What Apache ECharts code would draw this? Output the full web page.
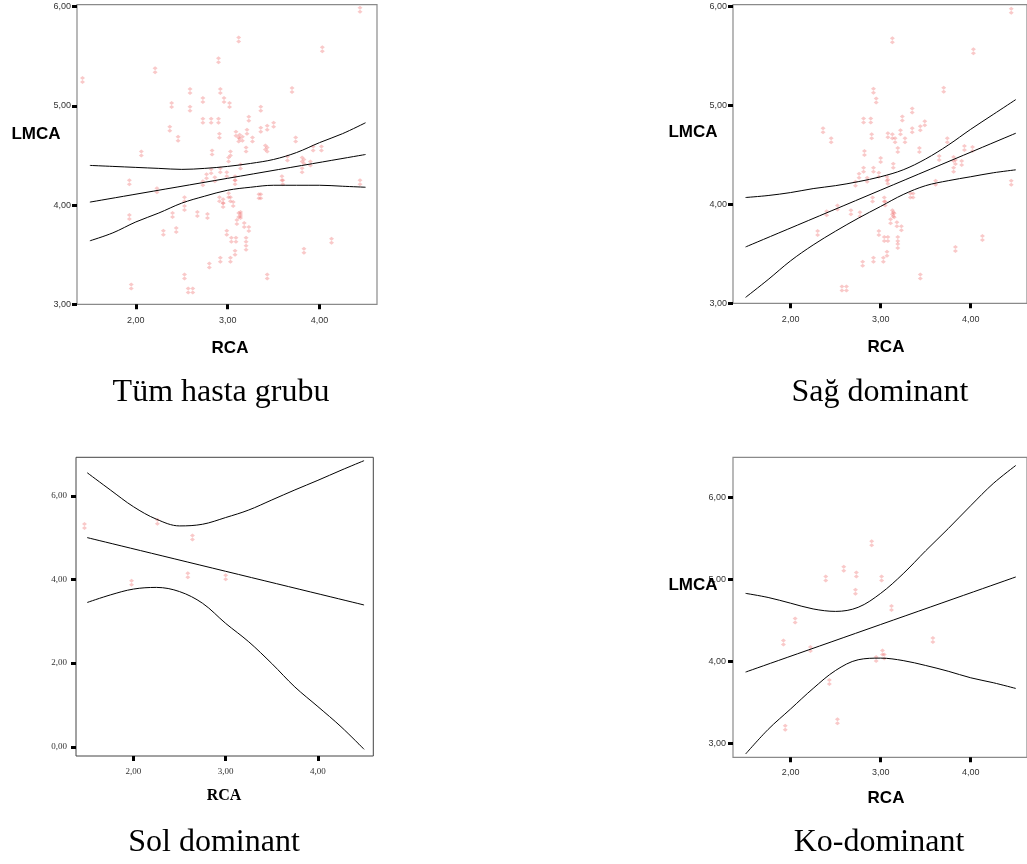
<!DOCTYPE html>
<html>
<head>
<meta charset="utf-8">
<script src="https://cdn.jsdelivr.net/npm/echarts@6/dist/echarts.min.js"></script>
<style>
  html, body { margin: 0; padding: 0; background: #fff; }
  #chart { width: 1027px; height: 864px; }
</style>
</head>
<body>
<div id="chart"></div>
<script>
// ---- data -------------------------------------------------------------
// Tüm hasta grubu (all patients)
const allRca = [1.42,2.21,2.06,1.93,1.93,1.95,2.23,2.30,2.40,2.44,2.37,2.39,2.46,2.53,2.53,2.53,2.57,2.62,2.59,2.59,
  2.67,2.73,2.73,2.73,2.78,2.80,2.77,2.82,2.82,2.83,2.86,2.90,2.90,2.91,2.92,2.92,2.91,2.92,2.95,2.95,
  2.96,2.99,2.99,3.01,3.02,3.03,3.01,3.03,3.04,3.03,3.06,3.08,3.08,3.08,3.09,3.09,3.10,3.12,3.12,3.13,
  3.14,3.12,3.14,3.14,3.16,3.18,3.20,3.20,3.20,3.21,3.23,3.23,3.27,3.36,3.36,3.34,3.36,3.41,3.43,3.43,
  3.43,3.50,3.59,3.60,3.65,3.70,3.74,3.81,3.83,3.81,3.83,3.90,3.93,4.02,4.03,4.13,4.44,4.44];
const allLmca = [5.26,5.36,4.52,4.23,3.88,3.18,4.15,3.72,3.90,3.75,4.77,5.01,4.67,4.06,3.97,3.28,3.14,3.14,5.15,4.97,
  3.91,5.06,4.85,4.22,3.89,3.39,4.29,4.34,4.85,4.53,4.26,4.85,5.46,4.70,4.35,5.15,4.06,3.45,4.04,4.00,
  5.06,4.31,3.72,4.46,5.01,4.52,4.10,4.06,3.65,3.45,4.01,4.27,4.23,3.52,3.65,4.72,3.83,5.67,4.66,4.69,
  4.39,3.90,3.91,3.89,4.67,3.80,4.56,3.65,3.57,4.74,4.87,3.76,4.66,4.97,4.76,4.09,4.09,4.58,4.56,4.78,
  3.28,4.81,4.27,4.23,4.47,5.16,4.66,4.46,4.44,4.35,3.54,4.42,4.57,4.57,5.57,3.64,5.97,4.23];

// Sağ dominant (right dominant)
const rightRca = [2.30,2.36,2.40,2.45,2.52,2.57,2.62,2.67,2.72,2.76,2.77,2.80,2.81,2.81,2.82,2.85,2.89,2.90,2.91,2.92,
  2.92,2.92,2.95,2.98,2.98,3.00,3.03,3.04,3.04,3.05,3.07,3.08,3.07,3.08,3.08,3.11,3.13,3.13,3.14,3.13,
  3.14,3.15,3.16,3.18,3.19,3.19,3.19,3.22,3.23,3.24,3.27,3.35,3.35,3.33,3.36,3.43,3.44,3.44,3.49,3.61,
  3.65,3.70,3.74,3.81,3.83,3.81,3.83,3.90,3.93,4.02,4.03,4.13,4.45,4.45];
const rightLmca = [3.71,4.75,3.91,4.65,3.97,3.15,3.15,3.92,4.21,4.29,3.90,3.40,4.85,4.35,4.52,4.25,4.85,4.69,4.05,3.44,
  4.35,5.15,5.05,4.30,3.71,4.45,3.44,4.05,3.65,4.01,4.26,4.23,3.50,3.65,4.70,3.83,5.66,4.69,4.39,3.92,
  3.90,3.89,4.65,3.80,4.55,3.65,3.58,4.73,3.76,4.87,4.65,4.95,4.75,4.09,4.09,4.55,4.77,3.27,4.82,4.22,
  4.47,5.16,4.65,4.46,4.43,4.35,3.55,4.42,4.57,4.56,5.55,3.66,5.96,4.22];

// Sol dominant (left dominant)
const leftRca = [1.47,1.98,2.26,2.59,2.64,3.00];
const leftLmca = [5.28,3.92,5.38,4.10,5.00,4.05];

// Ko-dominant (co-dominant)
const coRca = [1.92,1.94,2.05,2.22,2.39,2.43,2.52,2.59,2.72,2.73,2.90,2.95,3.01,3.02,3.04,3.12,3.58];
const coLmca = [4.23,3.19,4.50,4.15,5.01,3.75,3.27,5.13,4.85,5.06,5.44,4.03,5.01,4.11,4.06,4.65,4.26];

// regression line ends and 95% confidence band, sampled along RCA
const bandRca = [1.5,1.75,2.0,2.25,2.5,2.75,3.0,3.25,3.5,3.75,4.0,4.25,4.5];
const fitEnds = [1.5, 4.5];

const allFit = [4.03, 4.51];
const allUpper = [4.40,4.39,4.38,4.37,4.36,4.37,4.39,4.42,4.46,4.53,4.63,4.72,4.83];
const allLower = [3.64,3.72,3.83,3.92,4.02,4.09,4.15,4.18,4.20,4.20,4.20,4.19,4.18];

const rightFit = [3.57, 4.72];
const rightUpper = [4.07,4.09,4.12,4.16,4.19,4.23,4.28,4.35,4.46,4.60,4.76,4.91,5.06];
const rightLower = [3.06,3.24,3.43,3.59,3.73,3.86,3.98,4.10,4.19,4.24,4.28,4.32,4.35];

const leftFit = [5.00, 3.39];
const leftUpper = [6.55,6.14,5.74,5.44,5.28,5.32,5.48,5.66,5.90,6.14,6.37,6.61,6.84];
const leftLower = [3.45,3.63,3.77,3.81,3.71,3.43,2.95,2.51,1.99,1.43,0.96,0.48,-0.06];

const coFit = [3.87, 5.03];
const coUpper = [4.83,4.78,4.71,4.64,4.61,4.66,4.83,5.07,5.35,5.62,5.90,6.17,6.39];
const coLower = [2.87,3.17,3.42,3.67,3.89,4.02,4.04,4.01,3.95,3.88,3.80,3.74,3.67];

const xTicks = [2, 3, 4];
const yTicksA = [3, 4, 5, 6];
const yTicksLeft = [0, 2, 4, 6];

const panelTitles = ['Tüm hasta grubu', 'Sağ dominant', 'Sol dominant', 'Ko-dominant'];

// ---- helpers ----------------------------------------------------------
const zip = (xs, ys) => xs.map((x, i) => [x, ys[i]]);
const fmt = v => v.toFixed(2).replace('.', ',');

const SANS = '"Liberation Sans", Arial, sans-serif';
const SERIF = '"Liberation Serif", "Times New Roman", serif';

// small SPSS-like scatter glyph
const GLYPH = 'path://M3,0 L5,2 L3,4 L5,6 L3,8 L1,6 L3,4 L1,2 Z';

function xAxis(gi, min, max, font, margin) {
  return {
    type: 'value', gridIndex: gi, min: min, max: max,
    axisLine: { show: false, onZero: false },
    splitLine: { show: false },
    axisTick: { show: true, customValues: xTicks, length: 5, lineStyle: { color: '#000', width: 3 } },
    axisLabel: { customValues: xTicks, formatter: fmt, fontFamily: font, fontSize: 9, color: '#333', margin: margin }
  };
}
function yAxis(gi, min, max, ticks, font, margin) {
  return {
    type: 'value', gridIndex: gi, min: min, max: max,
    axisLine: { show: false, onZero: false },
    splitLine: { show: false },
    axisTick: { show: true, customValues: ticks, length: 5, lineStyle: { color: '#000', width: 3 } },
    axisLabel: { customValues: ticks, formatter: fmt, fontFamily: font, fontSize: 9, color: '#333', margin: margin }
  };
}
function points(gi, xs, ys) {
  return {
    type: 'scatter', xAxisIndex: gi, yAxisIndex: gi,
    data: zip(xs, ys), symbol: GLYPH, symbolSize: [5, 8],
    itemStyle: { color: 'rgba(240,120,120,0.5)' }, silent: true, z: 2
  };
}
function curve(gi, data) {
  return {
    type: 'line', xAxisIndex: gi, yAxisIndex: gi, data: data,
    smooth: 0.35, showSymbol: false, symbol: 'none', silent: true,
    lineStyle: { color: '#000', width: 1 }, z: 3
  };
}
function band(gi, fit, upper, lower, xs, ys) {
  return [
    points(gi, xs, ys),
    curve(gi, zip(fitEnds, fit)),
    curve(gi, zip(bandRca, upper)),
    curve(gi, zip(bandRca, lower))
  ];
}
function label(text, x, y, font, extra) {
  return Object.assign({
    type: 'text', z: 100,
    style: { text: text, x: x, y: y, font: font, fill: '#000', align: 'center', verticalAlign: 'middle' }
  }, extra || {});
}

// ---- chart ------------------------------------------------------------
const chart = echarts.init(document.getElementById('chart'), null, { renderer: 'canvas' });

chart.setOption({
  animation: false,
  backgroundColor: '#fff',
  grid: [
    { left: 77, top: 4.7, width: 300, height: 299.6, show: true, borderColor: '#8a8a8a', borderWidth: 1.2, backgroundColor: 'transparent' },
    { left: 733, top: 4.7, width: 300, height: 298.6, show: true, borderColor: '#8a8a8a', borderWidth: 1.2, backgroundColor: 'transparent' },
    { left: 76, top: 457.3, width: 297.3, height: 298.7, show: true, borderColor: '#444', borderWidth: 1, backgroundColor: 'transparent' },
    { left: 733, top: 457.3, width: 300, height: 300, show: true, borderColor: '#8a8a8a', borderWidth: 1.2, backgroundColor: 'transparent' }
  ],
  xAxis: [
    xAxis(0, 1.36, 4.625, SANS, 12),
    xAxis(1, 1.36, 4.625, SANS, 12),
    xAxis(2, 1.378, 4.60, SERIF, 11),
    xAxis(3, 1.36, 4.625, SANS, 11)
  ],
  yAxis: [
    yAxis(0, 3, 6.02, yTicksA, SANS, 6),
    yAxis(1, 3, 6.02, yTicksA, SANS, 6),
    yAxis(2, -0.22, 6.92, yTicksLeft, SERIF, 9),
    yAxis(3, 2.83, 6.49, yTicksA, SANS, 7)
  ],
  series: [].concat(
    band(0, allFit, allUpper, allLower, allRca, allLmca),
    band(1, rightFit, rightUpper, rightLower, rightRca, rightLmca),
    band(2, leftFit, leftUpper, leftLower, leftRca, leftLmca),
    band(3, coFit, coUpper, coLower, coRca, coLmca)
  ),
  graphic: [
    // axis titles
    label('LMCA', 36, 134, 'bold 17px ' + SANS),
    label('RCA', 230, 348, 'bold 17px ' + SANS),
    label('LMCA', 693, 132, 'bold 17px ' + SANS),
    label('RCA', 886, 347, 'bold 17px ' + SANS),
    label('LMCA', 36, 607, 'bold 16px ' + SERIF, { rotation: Math.PI / 2, x: 0, y: 0 }),
    label('RCA', 224, 796, 'bold 16px ' + SERIF),
    label('LMCA', 693, 585, 'bold 17px ' + SANS),
    label('RCA', 886, 798, 'bold 17px ' + SANS),
    // panel captions
    label(panelTitles[0], 221, 393, '32px ' + SERIF),
    label(panelTitles[1], 880, 393, '32px ' + SERIF),
    label(panelTitles[2], 214, 843, '32px ' + SERIF),
    label(panelTitles[3], 879, 843, '32px ' + SERIF)
  ]
});
</script>
</body>
</html>
